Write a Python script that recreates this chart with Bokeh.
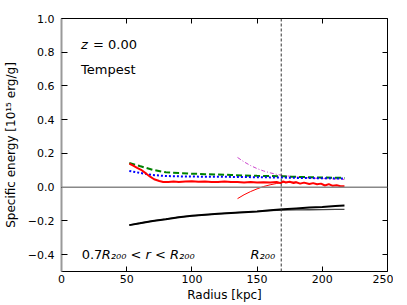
from bokeh.plotting import figure
from bokeh.models import LinearAxis, Range1d, Span, FixedTicker
from bokeh.core.properties import value
from bokeh.embed import file_html
from bokeh.resources import INLINE

# ---- data ----
r_main = [52, 60, 70, 80, 90, 100, 110, 120, 130, 140, 150, 160, 170, 180, 190, 200, 210, 217]
green_dashed = [0.143, 0.125, 0.103, 0.088, 0.084, 0.080, 0.077, 0.075, 0.072, 0.069, 0.067, 0.066, 0.064, 0.061, 0.059, 0.057, 0.056, 0.055]
blue_dotted = [0.096, 0.085, 0.072, 0.066, 0.064, 0.063, 0.062, 0.062, 0.061, 0.060, 0.059, 0.058, 0.057, 0.055, 0.054, 0.053, 0.052, 0.051]
black_thick = [-0.225, -0.214, -0.200, -0.190, -0.178, -0.170, -0.164, -0.158, -0.153, -0.148, -0.144, -0.137, -0.131, -0.126, -0.121, -0.117, -0.112, -0.109]
black_thin = [-0.225, -0.214, -0.200, -0.190, -0.178, -0.170, -0.164, -0.158, -0.153, -0.148, -0.144, -0.139, -0.136, -0.135, -0.134, -0.133, -0.132, -0.132]

r_red = [52, 55, 58, 61, 65, 68, 71, 75, 78, 82, 86, 90, 95, 100, 105, 110, 115, 120, 125, 130, 135, 140, 145, 150, 155, 160, 165, 168, 170, 172, 175, 178, 180, 183, 186, 190, 193, 196, 199, 202, 205, 208, 211, 214, 217]
red_thick = [0.140, 0.128, 0.115, 0.103, 0.080, 0.062, 0.047, 0.037, 0.031, 0.030, 0.033, 0.031, 0.034, 0.035, 0.032, 0.034, 0.031, 0.030, 0.033, 0.030, 0.031, 0.028, 0.030, 0.027, 0.029, 0.028, 0.031, 0.024, 0.034, 0.028, 0.032, 0.024, 0.029, 0.021, 0.027, 0.019, 0.024, 0.017, 0.021, 0.010, 0.018, 0.008, 0.011, 0.005, 0.005]

r_red_thin = [135, 140, 145, 150, 155, 160, 165, 170, 175, 180]
red_thin = [-0.068, -0.045, -0.026, -0.010, 0.004, 0.014, 0.022, 0.028, 0.030, 0.031]

r_mag = [135, 140, 145, 150, 155, 160, 165, 170, 180, 190, 200, 210, 217]
magenta = [0.176, 0.150, 0.128, 0.110, 0.096, 0.085, 0.076, 0.069, 0.061, 0.055, 0.051, 0.048, 0.046]

r200 = 168.5
x_ticks = [0, 50, 100, 150, 200, 250]
y_ticks = [-0.4, -0.2, 0.0, 0.2, 0.4, 0.6, 0.8, 1.0]
y_tick_labels = ["\u22120.4", "\u22120.2", "0.0", "0.2", "0.4", "0.6", "0.8", "1.0"]

FONT = "DejaVu Sans"

p = figure(frame_width=326, frame_height=253, output_backend="svg", toolbar_location=None,
           x_range=Range1d(0, 250), y_range=Range1d(-0.5, 1.0),
           min_border_left=55, min_border_right=6, min_border_top=18, min_border_bottom=26)
p.grid.visible = False
p.outline_line_color = None
p.background_fill_color = "white"
p.border_fill_color = "white"

# axes
xa = p.xaxis[0]
xa.ticker = FixedTicker(ticks=x_ticks)
xa.axis_label = "Radius [kpc]"
xa.major_tick_in = 5
xa.major_tick_out = 0
xa.minor_tick_line_color = None
xa.axis_line_color = "black"
xa.major_label_text_font = FONT
xa.major_label_text_font_size = "11px"
xa.major_label_text_color = "black"
xa.axis_label_text_font = FONT
xa.axis_label_text_font_size = "12px"
xa.axis_label_text_font_style = "normal"
xa.axis_label_text_color = "black"
xa.axis_label_standoff = 2
xa.major_label_standoff = 3

ya = p.yaxis[0]
ya.ticker = FixedTicker(ticks=y_ticks)
ya.major_label_overrides = {t: s for t, s in zip(y_ticks, y_tick_labels)}
ya.axis_label = "Specific energy [10\u00b9\u2075 erg/g]"
ya.major_tick_in = 6
ya.major_tick_out = 0
ya.minor_tick_line_color = None
ya.axis_line_color = "#999999"
ya.axis_line_width = 2
ya.major_label_text_font = FONT
ya.major_label_text_font_size = "11px"
ya.major_label_text_color = "black"
ya.axis_label_text_font = FONT
ya.axis_label_text_font_size = "12px"
ya.axis_label_text_font_style = "normal"
ya.axis_label_text_color = "black"
ya.axis_label_standoff = 7
ya.major_label_standoff = 7

top = LinearAxis(ticker=FixedTicker(ticks=x_ticks),
                 major_label_overrides={t: "" for t in x_ticks},
                 major_tick_in=5, major_tick_out=0, minor_tick_line_color=None,
                 axis_line_color="black", major_label_standoff=0)
right = LinearAxis(ticker=FixedTicker(ticks=y_ticks),
                   major_label_overrides={t: "" for t in y_ticks},
                   major_tick_in=5, major_tick_out=0, minor_tick_line_color=None,
                   axis_line_color="black", major_label_standoff=0)
p.add_layout(top, "above")
p.add_layout(right, "right")

# zero line
p.add_layout(Span(location=0, dimension="width", line_color="#888888", line_width=1.5))
# R200 line
p.add_layout(Span(location=r200, dimension="height", line_color="#333333", line_width=1, line_dash="3 2"))

# curves
p.line(r_main, black_thin, line_color="#444444", line_width=1.3)
p.line(r_main, black_thick, line_color="black", line_width=2)
p.line(r_mag, magenta, line_color="#cc44cc", line_width=1, line_dash="4 2 1 2")
p.line(r_red_thin, red_thin, line_color="red", line_width=1)
p.line(r_main, green_dashed, line_color="green", line_width=2, line_dash="6 3")
p.line(r_main, blue_dotted, line_color="blue", line_width=2, line_dash="2 2")
p.line(r_red, red_thick, line_color="red", line_width=2)

# annotations
p.text(x=[15], y=[0.847], text=["z"], text_font=value(FONT), text_font_size="13px",
       text_font_style="italic", text_baseline="middle", text_align="left")
p.text(x=[15], y=[0.847], text=["= 0.00"], x_offset=12, text_font=value(FONT), text_font_size="13px",
       text_baseline="middle", text_align="left")
p.text(x=[15], y=[0.70], text=["Tempest"], text_font=value(FONT), text_font_size="13px",
       text_baseline="middle", text_align="left")
p.text(x=[15.5], y=[-0.40], text=["0.7"], text_font=value(FONT), text_font_size="13px",
       text_baseline="middle", text_align="left")
p.text(x=[15.5], y=[-0.40], text=["R\u2082\u2080\u2080 < r < R\u2082\u2080\u2080"], x_offset=20,
       text_font=value(FONT), text_font_size="13px", text_font_style="italic",
       text_baseline="middle", text_align="left")
p.text(x=[145], y=[-0.40], text=["R\u2082\u2080\u2080"], text_font=value(FONT), text_font_size="13px",
       text_font_style="italic", text_baseline="middle", text_align="left")

open("out.html", "w").write(file_html(p, INLINE))
